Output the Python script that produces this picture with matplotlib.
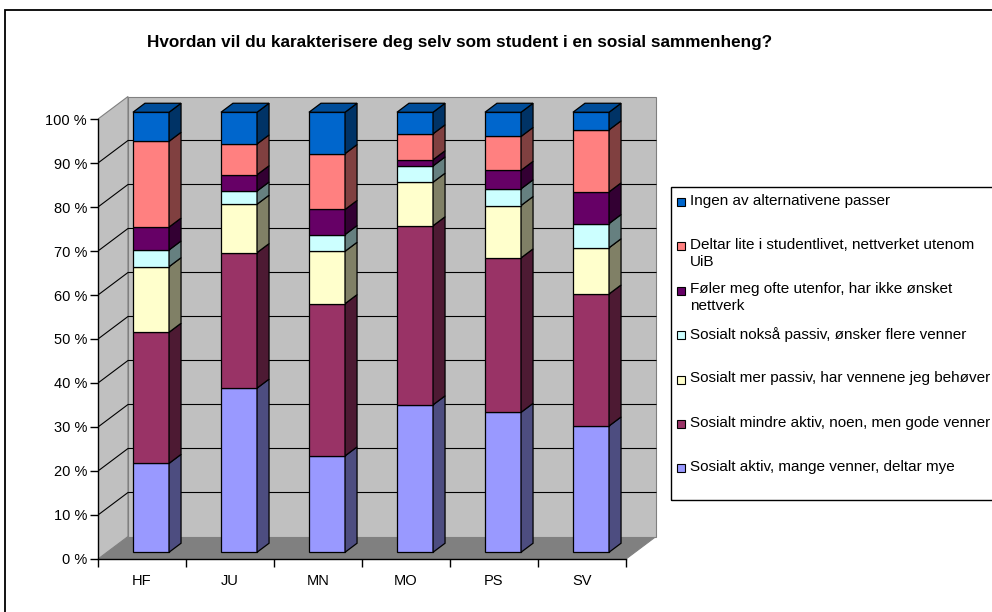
import matplotlib
matplotlib.use('Agg')
import matplotlib.pyplot as plt
from matplotlib.patches import Polygon, Rectangle
import matplotlib.colors as mcolors

# ---------------- data ----------------
categories = ['HF', 'JU', 'MN', 'MO', 'PS', 'SV']
series_names = [
    'Sosialt aktiv, mange venner, deltar mye',
    'Sosialt mindre aktiv, noen, men gode venner',
    'Sosialt mer passiv, har vennene jeg behøver',
    'Sosialt nokså passiv, ønsker flere venner',
    'Føler meg ofte utenfor, har ikke ønsket\nnettverk',
    'Deltar lite i studentlivet, nettverket utenom\nUiB',
    'Ingen av alternativene passer',
]
aktiv       = [20.2, 37.3, 21.9, 33.5, 31.8, 28.7]
mindre      = [29.8, 30.8, 34.6, 40.7, 35.1, 30.0]
mer_passiv  = [14.9, 11.0, 11.9,  9.9, 11.9, 10.5]
noksa       = [ 3.8,  3.0,  3.8,  3.7,  3.8,  5.5]
utenfor     = [ 5.2,  3.7,  5.7,  1.4,  4.2,  7.2]
deltar_lite = [19.5,  7.0, 12.7,  5.9,  7.7, 14.1]
ingen       = [ 6.6,  7.2,  9.4,  4.9,  5.5,  4.0]
series = [aktiv, mindre, mer_passiv, noksa, utenfor, deltar_lite, ingen]
colors = ['#9999FF', '#993366', '#FFFFCC', '#CCFFFF', '#660066', '#FF8080', '#0066CC']
yticks = list(range(0, 101, 10))
ytick_labels = [f'{v} %' for v in yticks]
title = 'Hvordan vil du karakterisere deg selv som student i en sosial sammenheng?'

# ---------------- layout ----------------
W, H = 992, 612
FONT = 'Liberation Sans'
FS = 10.5
fig = plt.figure(figsize=(W / 100, H / 100), dpi=100)
fig.patch.set_facecolor('white')

def fx(px):
    return px / W

def fy(py):
    return 1 - py / H

# outer chart border
fig.patches.append(Rectangle((fx(5), fy(640)), 1.2, fy(10) - fy(640), transform=fig.transFigure,
                             fill=False, edgecolor='black', linewidth=1.3))

fig.text(fx(460), fy(42), title, ha='center', va='center', fontsize=12.3, fontweight='bold',
         family=FONT)

XPX, YPX = 88.0, 4.4          # pixels per category / per percent
x0px, y0px = 98, 559
XMAX, YMAX = 6.4, 105.2
ax = fig.add_axes([fx(x0px), 1 - y0px / H, XMAX * XPX / W, YMAX * YPX / H])
ax.set_xlim(0, XMAX)
ax.set_ylim(0, YMAX)
ax.patch.set_visible(False)

DX, DY = 30 / XPX, 22.5 / YPX   # full depth offset in data units
n = len(categories)

def P(x, y, f):
    return (x + f * DX, y + f * DY)

wall = '#C0C0C0'
floor = '#808080'
edge = '#808080'
# floor
ax.add_patch(Polygon([P(0, 0, 0), P(n, 0, 0), P(n, 0, 1), P(0, 0, 1)], closed=True,
                     facecolor=floor, edgecolor=edge, lw=0.8, zorder=1))
# left side wall
ax.add_patch(Polygon([P(0, 0, 0), P(0, 0, 1), P(0, 100, 1), P(0, 100, 0)], closed=True,
                     facecolor=wall, edgecolor=edge, lw=0.8, zorder=1))
# back wall
ax.add_patch(Polygon([P(0, 0, 1), P(n, 0, 1), P(n, 100, 1), P(0, 100, 1)], closed=True,
                     facecolor=wall, edgecolor=edge, lw=0.8, zorder=1))
# gridlines
for v in yticks[1:-1]:
    a, b, c = P(0, v, 0), P(0, v, 1), P(n, v, 1)
    ax.plot([a[0], b[0], c[0]], [a[1], b[1], c[1]], color='black', lw=0.8, zorder=2)

# bars
F1, F2 = 0.3, 0.7
BW = 0.41

def shade(c, k):
    r, g, b = mcolors.to_rgb(c)
    return (r * k, g * k, b * k)

for i in range(n):
    xl = i + 0.5 - BW / 2
    xr = i + 0.5 + BW / 2
    bottom = 0.0
    for j, s in enumerate(series):
        top = bottom + s[i]
        ax.add_patch(Polygon([P(xl, bottom, F1), P(xr, bottom, F1), P(xr, top, F1), P(xl, top, F1)],
                             closed=True, facecolor=colors[j], edgecolor='black', lw=0.9, zorder=5))
        ax.add_patch(Polygon([P(xr, bottom, F1), P(xr, bottom, F2), P(xr, top, F2), P(xr, top, F1)],
                             closed=True, facecolor=shade(colors[j], 0.5), edgecolor='black', lw=0.9,
                             zorder=5))
        if j == len(series) - 1:
            ax.add_patch(Polygon([P(xl, top, F1), P(xr, top, F1), P(xr, top, F2), P(xl, top, F2)],
                                 closed=True, facecolor=shade(colors[j], 0.75), edgecolor='black',
                                 lw=0.9, zorder=5))
        bottom = top

# axes
for sp in ['top', 'right']:
    ax.spines[sp].set_visible(False)
ax.spines['left'].set_bounds(0, 100)
ax.spines['bottom'].set_bounds(0, n)
for sp in ['left', 'bottom']:
    ax.spines[sp].set_color('black')
    ax.spines[sp].set_linewidth(1.0)
    ax.spines[sp].set_zorder(3)
ax.set_yticks(yticks)
ax.set_yticklabels(ytick_labels, family=FONT, fontsize=FS)
ax.tick_params(axis='y', direction='out', length=5.5, width=1, pad=2.5)
ax.set_xticks(range(n + 1))
ax.set_xticklabels([''] * (n + 1))
ax.set_xticks([i + 0.5 for i in range(n)], minor=True)
ax.set_xticklabels(categories, minor=True, family=FONT, fontsize=FS)
ax.tick_params(axis='x', which='major', direction='out', length=6, width=1)
ax.tick_params(axis='x', which='minor', length=0, pad=11)

# legend (manual, Excel style)
fig.patches.append(Rectangle((fx(671), fy(500)), 1.0, fy(187) - fy(500), transform=fig.transFigure,
                             fill=False, edgecolor='black', linewidth=1.0))
step = 44.4
for k, j in enumerate(range(len(series) - 1, -1, -1)):
    yc = 202 + k * step
    fig.patches.append(Rectangle((fx(677), fy(yc + 4)), fx(685) - fx(677), fy(yc - 4) - fy(yc + 4),
                                 transform=fig.transFigure, facecolor=colors[j],
                                 edgecolor='black', linewidth=0.8))
    fig.text(fx(690), fy(yc - 8.5), series_names[j], ha='left', va='top', fontsize=11,
             family=FONT, linespacing=1.25)

fig.savefig('out.png', dpi=100)
